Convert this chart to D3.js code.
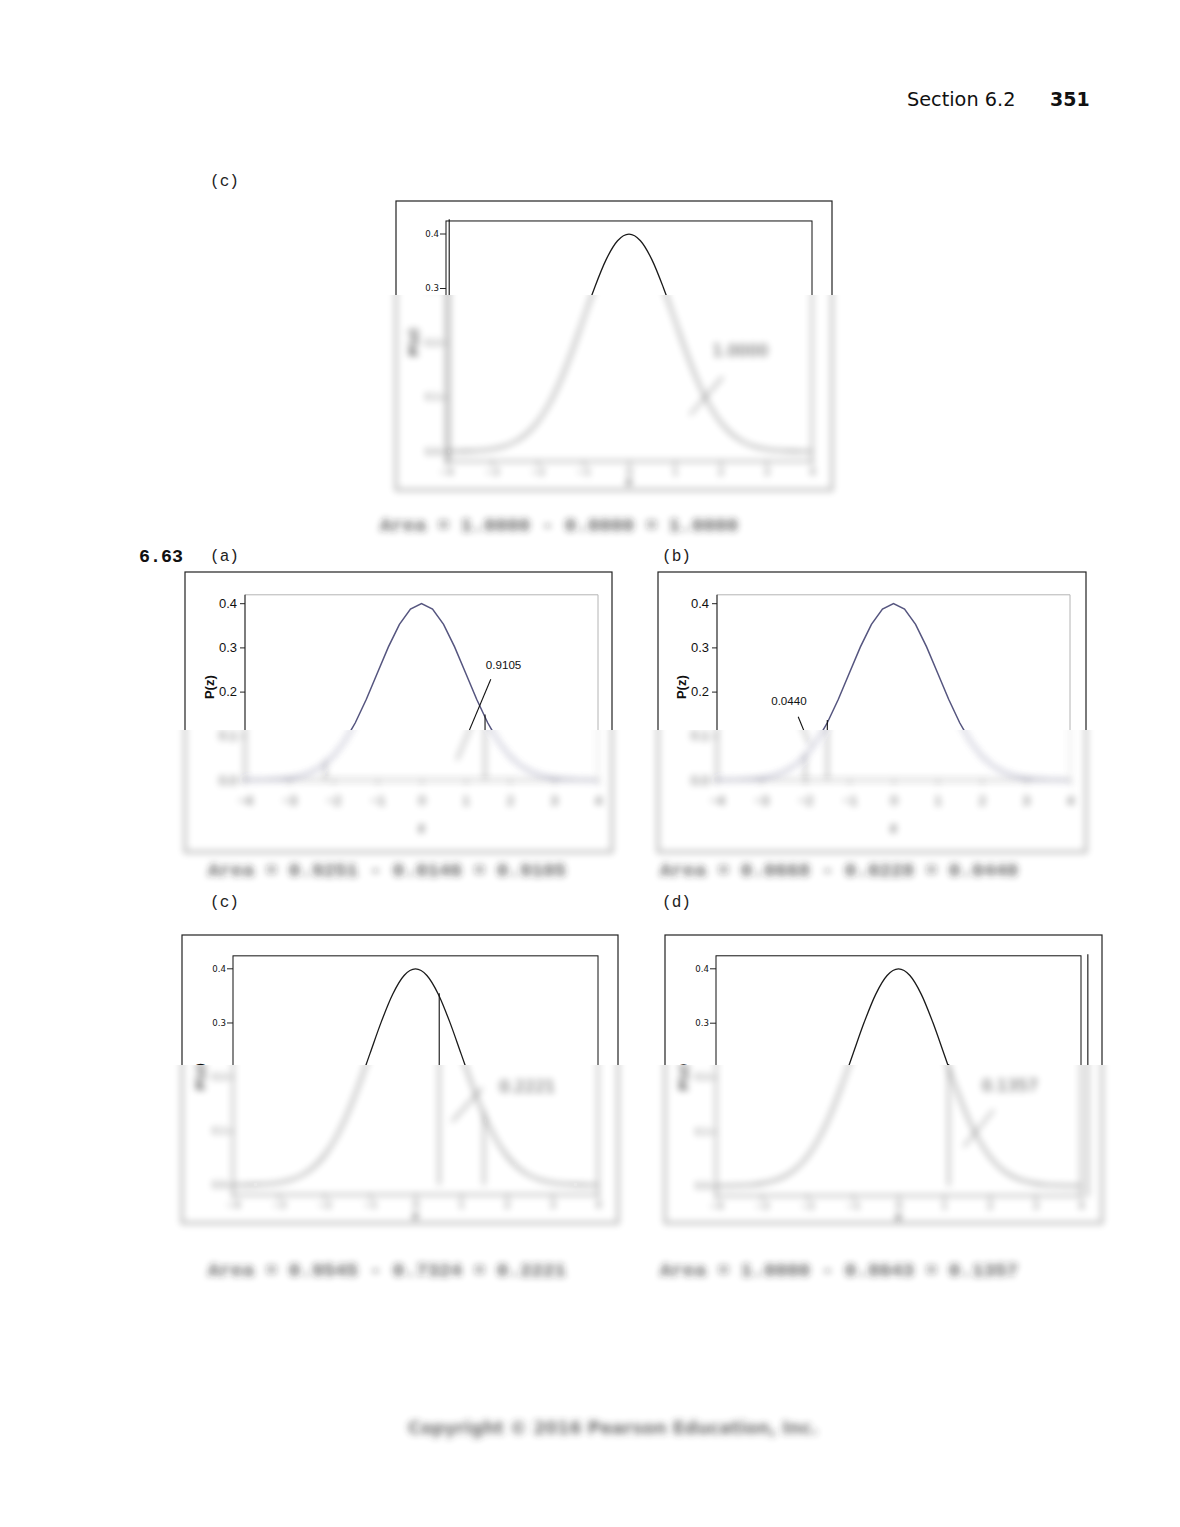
<!DOCTYPE html>
<html><head><meta charset="utf-8">
<script src="https://cdn.jsdelivr.net/npm/d3@7"></script>
<style>body{margin:0;background:#fff} svg{display:block}</style>
</head><body><svg id="page" width="1180" height="1527"></svg>
<script>
// ---------- data ----------
const zGrid = [-4,-3.75,-3.5,-3.25,-3,-2.75,-2.5,-2.25,-2,-1.75,-1.5,-1.25,-1,-0.75,-0.5,-0.25,0,
               0.25,0.5,0.75,1,1.25,1.5,1.75,2,2.25,2.5,2.75,3,3.25,3.5,3.75,4];
const density = [0.0001,0.0004,0.0009,0.0020,0.0044,0.0091,0.0175,0.0317,0.0540,0.0863,0.1295,0.1826,0.2420,0.3011,0.3521,0.3867,0.3989,
                 0.3867,0.3521,0.3011,0.2420,0.1826,0.1295,0.0863,0.0540,0.0317,0.0175,0.0091,0.0044,0.0020,0.0009,0.0004,0.0001];
const xTicks = [-4,-3,-2,-1,0,1,2,3,4];
const yTicks = [0,0.1,0.2,0.3,0.4];
const panelLabels = ["(c)","(a)","(b)","(c)","(d)"];
const shadeLow  = [null, -2.18, -2.0, 0.52, 1.1];
const shadeHigh = [null, 1.44, -1.5, 1.5, null];
const edgeRuleZ = [-3.93, null, null, null, 4.15];
const areaUpper  = ["1.0000","0.9251","0.0668","0.9545","1.0000"];
const areaLower  = ["0.0000","0.0146","0.0228","0.7324","0.8643"];
const areaResult = ["1.0000","0.9105","0.0440","0.2221","0.1357"];
const calloutLabelZ = [2.43, 1.86, -2.37, 2.45, 2.44];
const calloutLabelP = [0.186, 0.262, 0.179, 0.181, 0.185];
const calloutFromZ  = [1.33, 0.80, -1.90, 0.80, 1.43];
const calloutFromP  = [0.067, 0.045, 0.080, 0.117, 0.072];
const calloutToZ    = [2.05, 1.57, -2.16, 1.46, 2.09];
const calloutToP    = [0.137, 0.228, 0.143, 0.179, 0.140];
const headerText = "Section 6.2";
const pageNumber = "351";
const exerciseNumber = "6.63";
const copyrightText = "Copyright \u00A9 2016 Pearson Education, Inc.";
const yAxisTitle = "P(z)";
const xAxisTitle = "z";

// ---------- layout ----------
const layout = [
 {style:"mt", outer:[396,201,832,490], px:[446,812], py:[451.5,233.5], frameP:[-0.018,0.423], label:[210,186], blurY:295, blurX:[370,852], blurB:548, areaX:380, areaY:531},
 {style:"xl", outer:[185,572,612,852], px:[245,598], py:[780,603.2], frameP:[0,0.419], label:[210,561], blurY:730, blurX:[176,626], blurB:892, areaX:208, areaY:876},
 {style:"xl", outer:[658,572,1086,852], px:[717,1070], py:[780,603.2], frameP:[0,0.419], label:[662,561], blurY:730, blurX:[650,1100], blurB:892, areaX:660, areaY:876},
 {style:"mt", outer:[182,935,618,1223], px:[233,598], py:[1185,968.3], frameP:[-0.018,0.423], label:[210,907], blurY:1065, blurX:[170,630], blurB:1296, areaX:208, areaY:1276},
 {style:"mt", outer:[665,935,1102,1223], px:[716,1081], py:[1185.9,968.3], frameP:[-0.018,0.423], label:[662,907], blurY:1065, blurX:[654,1114], blurB:1296, areaX:660, areaY:1276}
];

const svg = d3.select("#page");
svg.append("rect").attr("width",1180).attr("height",1527).attr("fill","#fff");
const defs = svg.append("defs");
defs.append("filter").attr("id","blur").attr("filterUnits","userSpaceOnUse")
  .attr("x",0).attr("y",0).attr("width",1180).attr("height",1527)
  .append("feGaussianBlur").attr("stdDeviation",3.6);

const pdfAt = d3.scaleLinear().domain(zGrid).range(density);
const MONO = "'Liberation Mono','DejaVu Sans Mono',monospace";
const SANS = "'Liberation Sans',Arial,sans-serif";
const DJV = "'DejaVu Sans',Verdana,sans-serif";

function drawContent(g, i) {
  const L = layout[i];
  const mt = L.style === "mt";
  const x = d3.scaleLinear().domain([-4,4]).range(L.px);
  const y = d3.scaleLinear().domain([0,0.4]).range(L.py);
  const left = x(-4), right = x(4);
  const top = y(L.frameP[1]), bot = y(L.frameP[0]);

  g.append("rect").attr("x",L.outer[0]).attr("y",L.outer[1])
    .attr("width",L.outer[2]-L.outer[0]).attr("height",L.outer[3]-L.outer[1])
    .attr("fill","none").attr("stroke","#222").attr("stroke-width",1.2);

  if (mt) {
    g.append("rect").attr("x",left).attr("y",top).attr("width",right-left).attr("height",bot-top)
      .attr("fill","none").attr("stroke","#111").attr("stroke-width",1);
  } else {
    g.append("path").attr("d",`M${left},${top}H${right}V${bot}`).attr("fill","none").attr("stroke","#b4b4b4").attr("stroke-width",1);
    g.append("line").attr("x1",left).attr("x2",right).attr("y1",bot).attr("y2",bot).attr("stroke","#333");
    g.append("line").attr("x1",left).attr("x2",left).attr("y1",top).attr("y2",bot).attr("stroke","#111").attr("stroke-width",1.1);
  }

  // y axis
  const ya = d3.axisLeft(y).tickValues(yTicks).tickFormat(d3.format(".1f"))
    .tickSize(mt ? 6 : 5).tickPadding(mt ? 1 : 3);
  const yg = g.append("g").attr("transform",`translate(${left},0)`).call(ya);
  yg.select(".domain").remove();
  yg.selectAll("line").attr("stroke","#222");
  yg.selectAll("text").attr("fill","#111")
    .style("font-family", mt ? DJV : SANS).style("font-size", mt ? "8.6px" : "13px");

  // x axis
  const xa = d3.axisBottom(x).tickValues(xTicks).tickFormat(d3.format("d"))
    .tickSize(4).tickPadding(mt ? 3 : 12);
  const xg = g.append("g").attr("transform",`translate(0,${bot})`).call(xa);
  xg.select(".domain").remove();
  xg.selectAll("line").attr("stroke","#222");
  xg.selectAll("text").attr("fill","#111")
    .style("font-family", mt ? DJV : SANS).style("font-size", mt ? "9.5px" : "13px");

  // axis titles
  g.append("text").attr("x",(left+right)/2).attr("y", mt ? bot+24 : bot+52)
    .attr("text-anchor","middle").attr("fill","#111")
    .style("font-family", mt ? DJV : SANS).style("font-size", mt ? "11px" : "13px").style("font-weight","bold")
    .text(xAxisTitle);
  const tx = mt ? left - 33 : left - 36;
  g.append("text").attr("transform",`translate(${tx},${mt ? y(0.2) : y(0.21)}) rotate(-90)`)
    .attr("text-anchor","middle").attr("dominant-baseline","central").attr("fill","#111")
    .style("font-family", mt ? DJV : SANS).style("font-size", mt ? "12.5px" : "13px").style("font-weight","bold")
    .text(yAxisTitle);

  // curve
  const line = d3.line().x(d => x(d[0])).y(d => y(d[1]))
    .curve(mt ? d3.curveMonotoneX : d3.curveLinear);
  g.append("path").datum(zGrid.map((z,k) => [z, density[k]]))
    .attr("d", line).attr("fill","none")
    .attr("stroke", mt ? "#1a1a1a" : "#55557f").attr("stroke-width", mt ? 1.3 : 1.5);

  // shade bounds
  [shadeLow[i], shadeHigh[i]].forEach(z => {
    if (z === null) return;
    g.append("line").attr("x1",x(z)).attr("x2",x(z)).attr("y1",y(0)).attr("y2",y(pdfAt(z)+0.006))
      .attr("stroke","#111").attr("stroke-width",1.1);
  });
  if (edgeRuleZ[i] !== null) {
    g.append("line").attr("x1",x(edgeRuleZ[i])).attr("x2",x(edgeRuleZ[i]))
      .attr("y1",y(-0.02)).attr("y2",y(0.426)).attr("stroke","#111").attr("stroke-width",1.1);
  }

  // callout
  g.append("line").attr("x1",x(calloutFromZ[i])).attr("y1",y(calloutFromP[i]))
    .attr("x2",x(calloutToZ[i])).attr("y2",y(calloutToP[i])).attr("stroke","#111").attr("stroke-width",1.1);
  g.append("text").attr("x",x(calloutLabelZ[i])).attr("y",y(calloutLabelP[i]))
    .attr("text-anchor","middle").attr("dominant-baseline","central").attr("fill","#111")
    .style("font-family", mt ? DJV : SANS).style("font-size", mt ? "16px" : "11.6px")
    .text(areaResult[i]);

  // area equation
  g.append("text").attr("x",L.areaX).attr("y",L.areaY).attr("fill","#222")
    .style("font-family",MONO).style("font-size","19.25px").style("font-weight","bold")
    .text(`Area = ${areaUpper[i]} - ${areaLower[i]} = ${areaResult[i]}`);
}

layout.forEach((L, i) => {
  defs.append("clipPath").attr("id",`cs${i}`).append("rect")
    .attr("x",0).attr("y",0).attr("width",1180).attr("height",L.blurY);
  defs.append("clipPath").attr("id",`cb${i}`).append("rect")
    .attr("x",L.blurX[0]).attr("y",L.blurY).attr("width",L.blurX[1]-L.blurX[0]).attr("height",L.blurB-L.blurY);
  drawContent(svg.append("g").attr("clip-path",`url(#cs${i})`), i);
  drawContent(svg.append("g").attr("clip-path",`url(#cb${i})`).attr("opacity",0.7)
    .append("g").attr("filter","url(#blur)"), i);
  svg.append("text").attr("x",L.label[0]).attr("y",L.label[1]).attr("fill","#222")
    .attr("textLength",29).attr("lengthAdjust","spacingAndGlyphs")
    .style("font-family",MONO).style("font-size","16.3px").text(panelLabels[i]);
});

// header
svg.append("text").attr("x",907).attr("y",106).attr("fill","#111")
  .style("font-family",DJV).style("font-size","19.3px").text(headerText);
svg.append("text").attr("x",1050).attr("y",106).attr("fill","#111")
  .style("font-family",DJV).style("font-size","19px").style("font-weight","bold").text(pageNumber);
svg.append("text").attr("x",139).attr("y",562).attr("fill","#111")
  .style("font-family",MONO).style("font-size","18.3px").style("font-weight","bold").text(exerciseNumber);

// copyright (blurred)
svg.append("g").attr("opacity",0.7).attr("filter","url(#blur)").append("text")
  .attr("x",408).attr("y",1434).attr("textLength",410).attr("lengthAdjust","spacingAndGlyphs")
  .attr("fill","#333").style("font-family",DJV).style("font-size","18px").style("font-weight","bold")
  .text(copyrightText);
</script></body></html>
